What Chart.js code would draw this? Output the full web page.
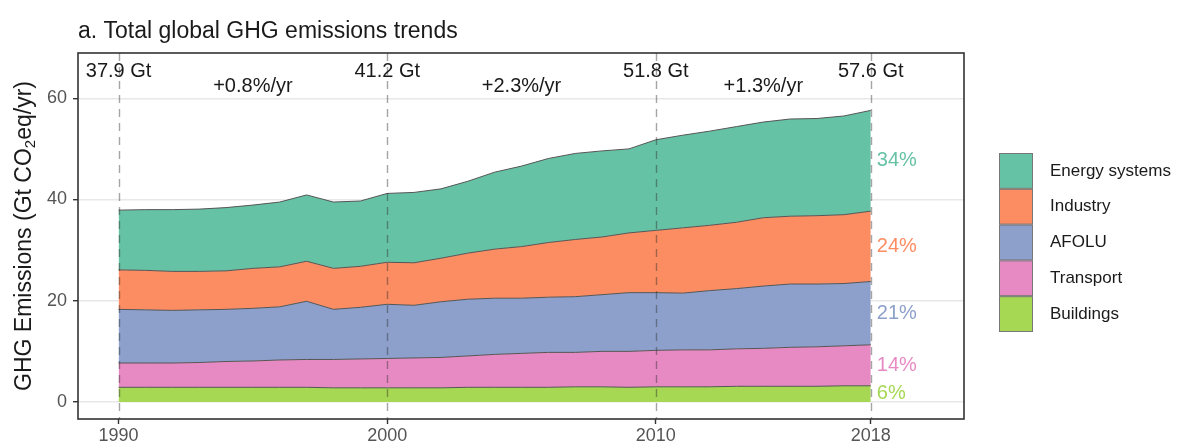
<!DOCTYPE html>
<html><head><meta charset="utf-8">
<script src="https://cdn.jsdelivr.net/npm/chart.js@4/dist/chart.umd.min.js"></script>
<style>html,body{margin:0;padding:0;background:#fff;}#wrap{position:relative;width:1185px;height:444px;}</style>
</head><body><div id="wrap"><canvas id="c" width="1185" height="444"></canvas></div>
<script>
const years = [1990,1991,1992,1993,1994,1995,1996,1997,1998,1999,2000,2001,2002,2003,2004,2005,2006,2007,2008,2009,2010,2011,2012,2013,2014,2015,2016,2017,2018];
const buildings = [2.9,2.9,2.9,2.9,2.9,2.9,2.9,2.9,2.8,2.8,2.8,2.8,2.8,2.9,2.9,2.9,2.9,3.0,3.0,2.9,3.0,3.0,3.0,3.1,3.1,3.1,3.1,3.2,3.2];
const transport = [4.8,4.8,4.8,4.9,5.1,5.2,5.4,5.5,5.6,5.7,5.8,5.9,6.0,6.2,6.5,6.7,6.9,6.8,7.0,7.1,7.2,7.3,7.3,7.4,7.5,7.7,7.8,7.9,8.1];
const afolu = [10.6,10.5,10.4,10.4,10.3,10.4,10.5,11.5,9.9,10.2,10.7,10.4,11.0,11.2,11.1,10.9,10.9,11.0,11.2,11.6,11.4,11.2,11.7,11.9,12.3,12.5,12.4,12.3,12.5];
const industry = [7.8,7.8,7.7,7.6,7.6,7.9,7.9,7.9,8.1,8.1,8.3,8.4,8.6,9.1,9.7,10.2,10.8,11.3,11.4,11.8,12.3,12.9,12.9,13.1,13.5,13.4,13.5,13.6,13.9];
const energy = [11.8,12.0,12.2,12.3,12.5,12.5,12.8,13.1,13.1,12.9,13.6,13.9,13.7,14.2,15.2,15.9,16.6,17.0,17.0,16.6,17.9,18.3,18.6,18.9,18.9,19.2,19.2,19.5,19.9];

const seriesNames = ['Buildings','Transport','AFOLU','Industry','Energy systems'];
const seriesColors = ['#a6d854','#e78ac3','#8da0cb','#fc8d62','#66c2a5'];
const shareLabels = ['6%','14%','21%','24%','34%'];
const legendOrder = ['Energy systems','Industry','AFOLU','Transport','Buildings'];

const markYears = [1990,2000,2010,2018];
const totalLabels = ['37.9 Gt','41.2 Gt','51.8 Gt','57.6 Gt'];
const rateLabels = ['+0.8%/yr','+2.3%/yr','+1.3%/yr'];
const xTicks = [1990,2000,2010,2018];
const yTicks = [0,20,40,60];

const titleText = 'a. Total global GHG emissions trends';
const FONT = '"Liberation Sans", Arial, Helvetica, sans-serif';

const seriesValues = [buildings, transport, afolu, industry, energy];
const datasets = seriesNames.map((name, i) => ({
  label: name,
  data: years.map((y, j) => ({x: y, y: seriesValues[i][j]})),
  backgroundColor: seriesColors[i],
  borderColor: '#555555',
  borderWidth: 1,
  pointRadius: 0,
  tension: 0,
  fill: i === 0 ? 'origin' : '-1'
}));

const annot = {
  id: 'annot',
  afterDatasetsDraw(chart) {
    const ctx = chart.ctx, xs = chart.scales.x, ys = chart.scales.y, ca = chart.chartArea;
    // dashed vertical lines
    ctx.save();
    ctx.strokeStyle = 'rgba(40,40,40,0.42)';
    ctx.lineWidth = 1.4;
    ctx.setLineDash([8, 6]);
    markYears.forEach(yr => {
      const px = Math.round(xs.getPixelForValue(yr)) + 0.5;
      ctx.beginPath(); ctx.moveTo(px, ca.top); ctx.lineTo(px, ca.bottom); ctx.stroke();
    });
    ctx.restore();
    // share labels at right
    ctx.save();
    ctx.font = '20px ' + FONT;
    ctx.textAlign = 'left'; ctx.textBaseline = 'middle';
    const last = years.length - 1;
    let cum = 0;
    const lx = xs.getPixelForValue(years[last]) + 6;
    seriesValues.forEach((arr, i) => {
      const mid = cum + arr[last] / 2;
      cum += arr[last];
      ctx.fillStyle = seriesColors[i];
      ctx.fillText(shareLabels[i], lx, ys.getPixelForValue(mid));
    });
    ctx.restore();
  },
  afterDraw(chart) {
    const ctx = chart.ctx, xs = chart.scales.x, ca = chart.chartArea;
    ctx.save();
    // panel border
    ctx.strokeStyle = '#333333'; ctx.lineWidth = 1.6;
    ctx.strokeRect(ca.left, ca.top, ca.right - ca.left, ca.bottom - ca.top);
    // title
    ctx.fillStyle = '#1a1a1a';
    ctx.font = '23px ' + FONT;
    ctx.textAlign = 'left'; ctx.textBaseline = 'alphabetic';
    ctx.fillText(titleText, 78, 38);
    // total labels
    ctx.font = '20px ' + FONT;
    ctx.textAlign = 'center'; ctx.textBaseline = 'middle';
    markYears.forEach((yr, i) => ctx.fillText(totalLabels[i], xs.getPixelForValue(yr), 71));
    // rate labels
    for (let i = 0; i < rateLabels.length; i++) {
      const mx = (xs.getPixelForValue(markYears[i]) + xs.getPixelForValue(markYears[i + 1])) / 2;
      ctx.fillText(rateLabels[i], mx, 86);
    }
    // y axis title with subscript
    ctx.save();
    ctx.translate(23, 236);
    ctx.rotate(-Math.PI / 2);
    const big = '23px ' + FONT, small = '15px ' + FONT;
    const p1 = 'GHG Emissions (Gt CO', p2 = '2', p3 = 'eq/yr)';
    ctx.font = big; const w1 = ctx.measureText(p1).width, w3 = ctx.measureText(p3).width;
    ctx.font = small; const w2 = ctx.measureText(p2).width;
    const tot = w1 + w2 + w3;
    let x0 = -tot / 2;
    ctx.textAlign = 'left'; ctx.textBaseline = 'alphabetic';
    ctx.fillStyle = '#1a1a1a';
    ctx.font = big; ctx.fillText(p1, x0, 8);
    ctx.font = small; ctx.fillText(p2, x0 + w1, 12);
    ctx.font = big; ctx.fillText(p3, x0 + w1 + w2, 8);
    ctx.restore();
    // legend
    const sq = 34, lh = 35.8, top0 = 153, lx = 999;
    legendOrder.forEach((name, k) => {
      const i = seriesNames.indexOf(name);
      const ty = top0 + k * lh;
      ctx.fillStyle = seriesColors[i];
      ctx.fillRect(lx, ty, sq, lh);
      ctx.strokeStyle = '#777777'; ctx.lineWidth = 1;
      ctx.strokeRect(lx + 0.5, ty + 0.5, sq - 1, lh - 1);
      ctx.fillStyle = '#1a1a1a';
      ctx.font = '17px ' + FONT;
      ctx.textAlign = 'left'; ctx.textBaseline = 'middle';
      ctx.fillText(name, 1050, ty + lh / 2);
    });
    ctx.restore();
  }
};

new Chart(document.getElementById('c'), {
  type: 'line',
  data: { datasets },
  options: {
    responsive: false, animation: false, devicePixelRatio: 1,
    layout: { padding: { top: 53, right: 221, left: 0, bottom: 0 } },
    plugins: { legend: { display: false }, tooltip: { enabled: false }, title: { display: false } },
    scales: {
      x: {
        type: 'linear', min: 1988.49, max: 2021.47,
        afterBuildTicks: s => { s.ticks = xTicks.map(v => ({ value: v })); },
        afterFit: s => { s.height = 25; },
        grid: { drawOnChartArea: false, drawTicks: true, tickLength: 5, tickColor: '#333333', tickWidth: 1.4 },
        border: { display: false },
        ticks: { font: { size: 18, family: FONT }, color: '#555555', padding: 1, maxRotation: 0, callback: v => String(v) }
      },
      y: {
        stacked: true, min: -3.36, max: 68.94,
        afterBuildTicks: s => { s.ticks = yTicks.map(v => ({ value: v })); },
        afterFit: s => { s.width = 78; },
        grid: { color: '#e8e8e8', lineWidth: 1.4, drawTicks: true, tickLength: 5, tickColor: '#333333', tickWidth: 1.4 },
        border: { display: false },
        ticks: { font: { size: 18, family: FONT }, color: '#555555', padding: 6, callback: v => String(v) }
      }
    }
  },
  plugins: [annot]
});
</script></body></html>
